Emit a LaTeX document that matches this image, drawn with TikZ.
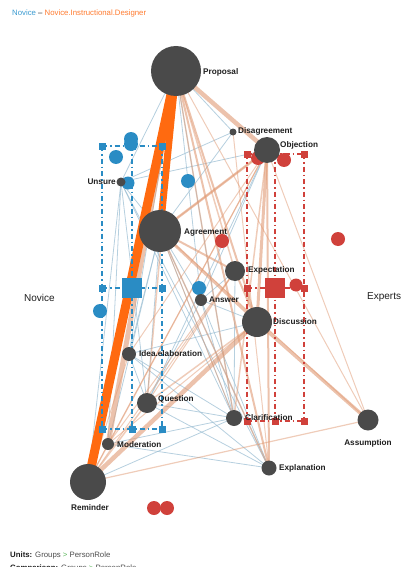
\documentclass[tikz,border=0pt]{standalone}
\usepackage{fontspec}
\setmainfont{Liberation Sans}
\definecolor{ng}{HTML}{4A4A4A}
\definecolor{bl}{HTML}{2A8CC4}
\definecolor{rd}{HTML}{D0413B}
\definecolor{org}{HTML}{FF6A10}
\definecolor{sal}{HTML}{E09A74}
\definecolor{lb}{HTML}{9EC0D4}
\definecolor{legblue}{HTML}{3A9AD0}
\definecolor{legorg}{HTML}{FF7A2E}
\definecolor{leggreen}{HTML}{5CB85C}
\definecolor{txt}{HTML}{1E1E1E}
\pgfdeclarelayer{edges}
\pgfdeclarelayer{marks}
\pgfsetlayers{edges,marks,main}
\tikzset{
  gn/.style={circle,fill=ng,inner sep=0pt},
  lab/.style={font=\fontsize{8.2}{9}\selectfont\bfseries,text=txt,inner sep=0pt,anchor=west},
  bc/.style={circle,fill=bl,inner sep=0pt,minimum size=14pt},
  rc/.style={circle,fill=rd,inner sep=0pt,minimum size=14pt},
  bsq/.style={rectangle,fill=bl,inner sep=0pt,minimum size=7pt},
  rsq/.style={rectangle,fill=rd,inner sep=0pt,minimum size=7pt},
  bigb/.style={rectangle,fill=bl,inner sep=0pt,minimum size=20pt},
  bigr/.style={rectangle,fill=rd,inner sep=0pt,minimum size=20pt},
  bdash/.style={draw=bl,line width=2pt,dash pattern=on 5pt off 3pt on 1.5pt off 3pt},
  rdash/.style={draw=rd,line width=2pt,dash pattern=on 5pt off 3pt on 1.5pt off 3pt},
  oe/.style={draw=org,line cap=butt},
  se/.style={draw=sal,opacity=0.6},
  sthin/.style={draw=sal,opacity=0.5},
  be/.style={draw=lb,line width=0.8pt,opacity=0.75},
}
\begin{document}
\begin{tikzpicture}[x=1pt,y=-1pt]
\useasboundingbox (0,0) rectangle (406,567);
% gray nodes
\node[gn,minimum size=50pt] (P) at (176,71) {};
\node[gn,minimum size=7pt] (Dis) at (233,132) {};
\node[gn,minimum size=26pt] (Ob) at (267,150) {};
\node[gn,minimum size=9pt] (Un) at (121,182) {};
\node[gn,minimum size=42pt] (Ag) at (160,231) {};
\node[gn,minimum size=20pt] (Ex) at (235,271) {};
\node[gn,minimum size=12pt] (An) at (201,300) {};
\node[gn,minimum size=30pt] (Di) at (257,322) {};
\node[gn,minimum size=14pt] (Id) at (129,354) {};
\node[gn,minimum size=20pt] (Qu) at (147,403) {};
\node[gn,minimum size=16pt] (Cl) at (234,418) {};
\node[gn,minimum size=12pt] (Mo) at (108,444) {};
\node[gn,minimum size=21pt] (As) at (368,420) {};
\node[gn,minimum size=15pt] (Xp) at (269,468) {};
\node[gn,minimum size=36pt] (Re) at (88,482) {};
% labels
\node[lab] (lP) at (203,72) {Proposal};
\node[lab] (lDis) at (238,131) {Disagreement};
\node[lab] (lOb) at (280,145) {Objection};
\node[lab,anchor=east] (lUn) at (116,182) {Unsure};
\node[lab] (lAg) at (184,233) {Agreement};
\node[lab] (lEx) at (248,270) {Expectation};
\node[lab] (lAn) at (209,300) {Answer};
\node[lab] (lDi) at (273,322) {Discussion};
\node[lab] (lId) at (139,354) {Idea.elaboration};
\node[lab] (lQu) at (158,399) {Question};
\node[lab] (lCl) at (245,418) {Clarification};
\node[lab] (lMo) at (117,445) {Moderation};
\node[lab,anchor=center] (lAs) at (368,443) {Assumption};
\node[lab] (lXp) at (279,468) {Explanation};
\node[lab,anchor=center] (lRe) at (90,508) {Reminder};
% side labels and legend
\node[font=\fontsize{10}{12}\selectfont,text=txt,anchor=west,inner sep=0pt] (nov) at (24,298) {Novice};
\node[font=\fontsize{10}{12}\selectfont,text=txt,anchor=west,inner sep=0pt] (exp) at (367,297) {Experts};
\node[font=\fontsize{7.8}{9}\selectfont,anchor=west,inner sep=0pt] (leg) at (12,13) {\textcolor{legblue}{Novice} \textcolor{txt}{–} \textcolor{legorg}{Novice.Instructional.Designer}};
\node[font=\fontsize{7.8}{9}\selectfont,anchor=west,inner sep=0pt,text=txt] (units) at (10,555) {\textbf{Units:} \textcolor{black!70}{Groups} \textcolor{leggreen}{>} \textcolor{black!70}{PersonRole}};
\node[font=\fontsize{7.8}{9}\selectfont,anchor=west,inner sep=0pt,text=txt] (comp) at (10,568) {\textbf{Comparison:} \textcolor{black!70}{Groups} \textcolor{leggreen}{>} \textcolor{black!70}{PersonRole}};
\begin{pgfonlayer}{edges}
% light blue thin edges
\foreach \a/\b in {Cl/P,Cl/Ag,Cl/Qu,Cl/Mo,Cl/Id,Cl/Un,Cl/An,Cl/Re,Cl/Ex,
  Xp/Mo,Xp/Qu,Xp/Ag,Xp/Id,Xp/An,Xp/Un,Qu/Id,Qu/Ag,Qu/An,Qu/Un,Mo/Ag,Mo/Un,
  Un/Ag,Un/P,Dis/Ag,Dis/P,Dis/Un,An/Ag,An/Ex,An/P,Id/Ag,Id/P,Re/Un,Ob/An,Ob/Qu,Ob/Un,Di/An,Di/Id}
  \draw[be] (\a.center) -- (\b.center);
% salmon thin edges
\foreach \a/\b/\w in {P/As/1,Re/As/1.2,Ob/As/1,Ob/Id/1,Ob/Mo/1,Ex/Qu/1,Ex/Mo/1,
  Ag/Xp/1.5,Ag/Cl/1,Di/Qu/1.5,Di/Mo/1,Ex/Re/1,Qu/Re/1.5,Mo/Re/1,Id/Re/1,
  P/Cl/1.5,P/Ex/1.5,P/Qu/1.5,Ob/Cl/1.5,Ob/Re/1.2,Ob/Ag/1,Dis/Xp/1,Ag/As/1}
  \draw[sthin,line width=\w pt] (\a.center) -- (\b.center);
% salmon thick edges
\foreach \a/\b/\w in {P/Ob/4.5,P/Mo/5,Re/Di/4.5,Di/As/3.5,Ag/Ob/2.5,Ag/Di/3,Ag/Ex/2,
  Ob/Di/3,Ob/Xp/2,P/Di/2,P/Xp/2,Ex/Di/2}
  \draw[se,line width=\w pt] (\a.center) -- (\b.center);
% orange edges
\draw[oe,line width=9pt] (P.center) -- (Re.center);
\draw[oe,line width=7pt] (P.center) -- (Ag.center);
\end{pgfonlayer}
\begin{pgfonlayer}{marks}
% blue box
\node[bsq] (b11) at (102,146) {};
\node[bsq] (b12) at (132,146) {};
\node[bsq] (b13) at (162,146) {};
\node[bsq] (b21) at (102,288) {};
\node[bsq] (b23) at (162,288) {};
\node[bsq] (b31) at (102,429) {};
\node[bsq] (b32) at (132,429) {};
\node[bsq] (b33) at (162,429) {};
\node[bigb] (b22) at (132,288) {};
\draw[bdash] (b11.center) -- (b13.center);
\draw[bdash] (b21.center) -- (b23.center);
\draw[bdash] (b31.center) -- (b33.center);
\draw[bdash] (b11.center) -- (b31.center);
\draw[bdash] (b12.center) -- (b32.center);
\draw[bdash] (b13.center) -- (b33.center);
% red box
\node[rsq] (r11) at (247,154) {};
\node[rsq] (r12) at (275,154) {};
\node[rsq] (r13) at (304,154) {};
\node[rsq] (r21) at (247,288) {};
\node[rsq] (r23) at (304,288) {};
\node[rsq] (r31) at (247,421) {};
\node[rsq] (r32) at (275,421) {};
\node[rsq] (r33) at (304,421) {};
\node[bigr] (r22) at (275,288) {};
\draw[rdash] (r11.center) -- (r13.center);
\draw[rdash] (r21.center) -- (r23.center);
\draw[rdash] (r31.center) -- (r33.center);
\draw[rdash] (r11.center) -- (r31.center);
\draw[rdash] (r12.center) -- (r32.center);
\draw[rdash] (r13.center) -- (r33.center);
% blue circles
\node[bc] (bc1) at (131,139) {};
\node[bc] (bc2) at (131,144) {};
\node[bc] (bc3) at (116,157) {};
\node[bc,minimum size=13pt] (bc4) at (128,183) {};
\node[bc] (bc5) at (188,181) {};
\node[bc] (bc6) at (100,311) {};
\node[bc] (bc7) at (199,288) {};
% red circles
\node[rc] (rc1) at (258,158) {};
\node[rc] (rc2) at (284,160) {};
\node[rc] (rc3) at (222,241) {};
\node[rc] (rc4) at (338,239) {};
\node[rc,minimum size=13pt] (rc5) at (296,285) {};
\node[rc] (rc6) at (154,508) {};
\node[rc] (rc7) at (167,508) {};
\end{pgfonlayer}
\end{tikzpicture}
\end{document}
